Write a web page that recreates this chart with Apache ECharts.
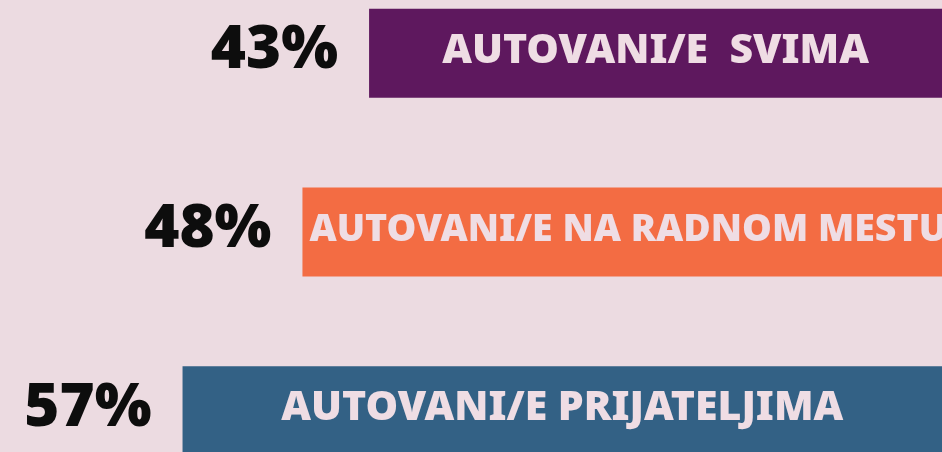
<!DOCTYPE html>
<html>
<head>
<meta charset="utf-8">
<script src="https://cdn.jsdelivr.net/npm/echarts@6/dist/echarts.min.js"></script>
<style>
  html, body { margin: 0; padding: 0; background: #ecdbe1; overflow: hidden; }
  /* platno je vise od prozora, traka na dnu je odsecena */
  #chart { position: absolute; left: 0; top: -36px; width: 942px; height: 536px; }
</style>
</head>
<body>
<div id="chart"></div>
<script>
  // podaci sa slike
  var categories = ['AUTOVANI/E  SVIMA', 'AUTOVANI/E NA RADNOM MESTU', 'AUTOVANI/E PRIJATELJIMA'];
  var values = [43, 48, 57];
  var barColors = ['#5e185e', '#f36c43', '#336185'];

  var myChart = echarts.init(document.getElementById('chart'));

  // tekst u srednjoj traci je predugacak, pa krece od levog kraja
  var innerData = values.map(function (v, i) {
    if (i === 1) {
      return { value: v, label: { position: 'insideLeft', distance: 7, fontSize: 37.5 } };
    }
    return v;
  });

  var option = {
    backgroundColor: '#ecdbe1',
    animation: false,
    grid: { left: 0, right: 0, top: 0, bottom: 0 },
    xAxis: {
      type: 'value',
      inverse: true,
      min: 0,
      max: 70.7,
      show: false
    },
    yAxis: {
      type: 'category',
      inverse: true,
      data: categories,
      show: false
    },
    series: [
      {
        type: 'bar',
        barWidth: 89,
        data: values,
        itemStyle: {
          color: function (p) { return barColors[p.dataIndex]; }
        },
        label: {
          show: true,
          position: 'left',
          distance: 31,
          offset: [0, -2],
          formatter: '{c}%',
          color: '#0d0d0d',
          fontFamily: 'Noto Sans',
          fontWeight: 900,
          fontSize: 60
        }
      },
      {
        // samo za tekst unutar trake
        type: 'bar',
        barWidth: 89,
        barGap: '-100%',
        data: innerData,
        itemStyle: { color: 'transparent' },
        label: {
          show: true,
          position: 'inside',
          offset: [0, -2],
          formatter: '{b}',
          color: '#efdde4',
          fontFamily: 'Noto Sans',
          fontWeight: 900,
          fontSize: 41
        }
      }
    ]
  };
  myChart.setOption(option);
</script>
</body>
</html>
